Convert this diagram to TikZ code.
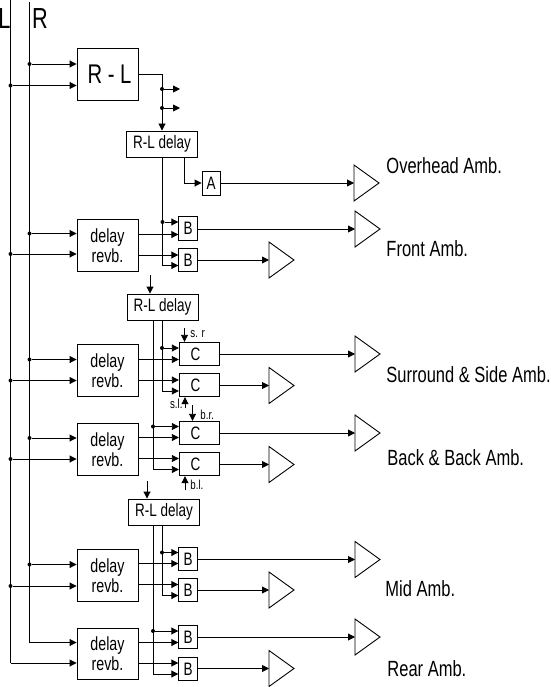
\documentclass[tikz,border=0pt]{standalone}
\usepackage{fontspec}
\setmainfont[FakeStretch=0.75]{Liberation Sans}
\usetikzlibrary{arrows.meta}

\begin{document}
\begin{tikzpicture}[
    x=1pt, y=-1pt,
    line width=0.9pt, >={Triangle[length=7pt,width=7pt]},
    blk/.style={draw, inner sep=0pt, align=center, font=\fontsize{18}{20}\selectfont},
    tap/.style={circle, fill, inner sep=0pt, minimum size=4pt},
    lbl/.style={anchor=west, inner sep=0pt, font=\fontsize{22}{24}\selectfont},
    sml/.style={inner sep=0pt, font=\fontsize{13}{14}\selectfont}
  ]

    \useasboundingbox (0,0) rectangle (550,687);

    % --- ENTRADAS L / R ---
    \node[inner sep=0pt, font=\fontsize{29}{29}\selectfont] (inl) at (4.5,19) {L};
    \node[inner sep=0pt, font=\fontsize{29}{29}\selectfont] (inr) at (40,19) {R};
    \coordinate (lbus) at (10.5,0);
    \coordinate (rbus) at (29.5,2);
    \coordinate (lend) at (10.5,663);
    \coordinate (rend) at (29.5,642.5);
    \draw (lbus) -- (lend);
    \draw (rbus) -- (rend);

    % --- BLOQUES ---
    \node[blk, minimum width=61pt, minimum height=52pt, font=\fontsize{27}{27}\selectfont] (rl) at (107.5,74) {\hspace*{4pt}R - L};
    \foreach \nm/\xc/\yc in {dly1/162/144, dly2/162.5/307, dly3/164/512} {
        \node[blk, minimum width=71pt, minimum height=26pt] (\nm) at (\xc,\yc) {R-L delay};
    }
    \foreach \nm/\yc in {rev1/245.5, rev2/370.5, rev3/449.5, rev4/575.5, rev5/654} {
        \node[blk, minimum width=61pt, minimum height=51.5pt, font=\fontsize{19}{20}\selectfont] (\nm) at (107.5,\yc) {delay\\revb.};
    }
    \node[blk, minimum width=18pt, minimum height=24pt] (a1) at (211,183) {A};
    \foreach \nm/\yc in {b1/228.5, b2/260, b3/559, b4/590, b5/637, b6/669} {
        \node[blk, minimum width=18.5pt, minimum height=23.5pt] (\nm) at (188,\yc) {B};
    }
    \foreach \nm/\yc in {c1/354, c2/385, c3/433, c4/464} {
        \node[blk, minimum width=40.5pt, minimum height=23.5pt] (\nm) at (199.5,\yc) {C\hspace*{8pt}};
    }

    % --- AMPLIFICADORES ---
    \foreach \nm/\xa/\ya in {amp1/354/183, amp2/355/229, amp3/269/260, amp4/355/354, amp5/269/385.5,
        amp6/355/433, amp7/269/464.5, amp8/355/559.5, amp9/269/590, amp10/355/637, amp11/269/668.5} {
        \coordinate (\nm) at (\xa,\ya);
        \draw (\nm) ++(0,-18) -- ++(25,18) -- ++(-25,18) -- cycle;
    }

    % --- L y R hacia los bloques ---
    \foreach \blq/\yr/\yl in {rl/64/85.5, rev1/233.5/254, rev2/359.5/380.5, rev3/438/459, rev4/564.5/586} {
        \node[tap] (r\blq) at (29.5,\yr) {};
        \node[tap] (l\blq) at (10.5,\yl) {};
        \draw[->] (r\blq) -- (r\blq -| \blq.west);
        \draw[->] (l\blq) -- (l\blq -| \blq.west);
    }
    \draw[->] (rend) -- (rend -| rev5.west);
    \draw[->] (lend) -- (lend -| rev5.west);

    % --- R-L y sus salidas ---
    \coordinate (rlc) at (162,74.5);
    \draw[->] (rl.east |- rlc) -- (rlc) -- (rlc |- dly1.north);
    \foreach \nm/\yy in {st1/89, st2/108} {
        \node[tap] (\nm) at (162,\yy) {};
        \draw[->] (\nm) -- ++(18,0);
    }

    % --- Lineas de retardo ---
    \coordinate (dv1) at (162.5,265.5);
    \coordinate (dv2) at (184.5,183);
    \draw[->] (dly1.south -| dv1) -- (dv1) -- (dv1 -| b2.west);
    \draw[->] (dly1.south -| dv2) -- (dv2) -- (a1.west);
    \node[tap] (tb1) at (162.5,222) {};
    \draw[->] (tb1) -- (tb1 -| b1.west);

    \coordinate (dv3) at (153,469.5);
    \coordinate (dv4) at (162,391);
    \draw[->] (dly2.south -| dv3) -- (dv3) -- (dv3 -| c4.west);
    \draw[->] (dly2.south -| dv4) -- (dv4) -- (dv4 -| c2.west);
    \node[tap] (tc1) at (162,348) {};
    \node[tap] (tc3) at (153,426.5) {};
    \draw[->] (tc1) -- (tc1 -| c1.west);
    \draw[->] (tc3) -- (tc3 -| c3.west);

    \coordinate (dv5) at (153,674);
    \coordinate (dv6) at (162,595.5);
    \draw[->] (dly3.south -| dv5) -- (dv5) -- (dv5 -| b6.west);
    \draw[->] (dly3.south -| dv6) -- (dv6) -- (dv6 -| b4.west);
    \node[tap] (tb3) at (162,552.5) {};
    \node[tap] (tb5) at (153,631) {};
    \draw[->] (tb3) -- (tb3 -| b3.west);
    \draw[->] (tb5) -- (tb5 -| b5.west);

    % Flechas sueltas hacia R-L delay
    \coordinate (fd2) at (150,275);
    \coordinate (fd3) at (147,481);
    \draw[->] (fd2) -- (fd2 |- dly2.north);
    \draw[->] (fd3) -- (fd3 |- dly3.north);

    % --- Retardo/reverb hacia B y C ---
    \foreach \src/\dst/\yy in {rev1/b1/234.5, rev1/b2/255, rev2/c1/359.5, rev2/c2/380, rev3/c3/437.5,
        rev3/c4/458.5, rev4/b3/563.5, rev4/b4/584.5, rev5/b5/642.5, rev5/b6/663} {
        \draw[->] (\src.east |- 0,\yy) -- (\dst.west |- 0,\yy);
    }

    % --- Salidas hacia amplificadores ---
    \foreach \src/\dst in {a1/amp1, b1/amp2, b2/amp3, c1/amp4, c2/amp5, c3/amp6, c4/amp7, b3/amp8, b4/amp9, b5/amp10, b6/amp11} {
        \draw[->] (\src.east |- \dst) -- (\dst);
    }

    % --- Control s. r, s.l., b.r., b.l. ---
    \coordinate (csr) at (184.5,328);
    \coordinate (csl) at (185,408);
    \coordinate (cbr) at (192.5,405);
    \coordinate (cbl) at (185,490);
    \draw[->] (csr) -- (csr |- c1.north);
    \draw[->] (csl) -- (csl |- c2.south);
    \draw[->] (cbr) -- (cbr |- c3.north);
    \draw[->] (cbl) -- (cbl |- c4.south);
    \node[sml, anchor=west] (tsr) at (190,334) {s. r};
    \node[sml, anchor=east] (tsl) at (183,404) {s.l.};
    \node[sml, anchor=west] (tbr) at (200,415) {b.r.};
    \node[sml, anchor=west] (tbl) at (190,485) {b.l.};

    % --- ETIQUETAS ---
    \node[lbl] (toh) at (386,166) {Overhead Amb.};
    \node[lbl] (tfr) at (386,249) {Front Amb.};
    \node[lbl] (tsu) at (386,375) {Surround \& Side Amb.};
    \node[lbl] (tba) at (387,458) {Back \& Back Amb.};
    \node[lbl] (tmi) at (385,589) {Mid Amb.};
    \node[lbl] (tre) at (387,669) {Rear Amb.};

  \end{tikzpicture}
\end{document}
